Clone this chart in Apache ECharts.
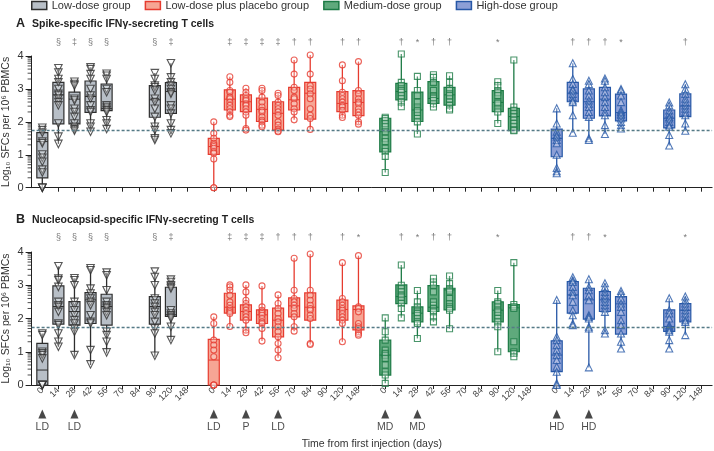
<!DOCTYPE html>
<html><head><meta charset="utf-8">
<script src="https://cdn.jsdelivr.net/npm/echarts@6/dist/echarts.min.js"></script>
<style>html,body{margin:0;padding:0;background:#fff}#c{width:714px;height:451px}</style>
</head><body><div id="c"></div>
<script>
// ---------------- DATA ----------------
const groupNames = ['Low-dose group','Low-dose plus placebo group','Medium-dose group','High-dose group'];
const dayTicks = ['0','14','28','42','56','70','84','90','120','148'];
const panelTitles = ['Spike-specific IFNγ-secreting T cells','Nucleocapsid-specific IFNγ-secreting T cells'];
const panelLetters = ['A','B'];
const threshold = 1.73;
const yTickLabels = ['0','1','2','3','4'];

// Panel A – box stats [min, Q1, median, Q3, max]
const A_LD_days = [0,14,28,42,56,90,120];
const A_LD_box = [[0,0.30,1.40,1.67,1.82],[1.33,1.94,2.82,3.20,3.63],[1.73,1.94,2.69,2.90,3.22],[1.70,2.29,2.77,3.24,3.66],[1.78,2.34,2.40,3.15,3.46],[1.45,2.14,2.67,3.10,3.48],[1.63,2.26,2.92,3.19,3.78]];
const A_LD_pts = [[1.82,1.75,1.67,1.40,1.35,1.01,0.91,0.79,0.55,0.46,0,0,0],[3.63,3.5,3.3,3.2,3.0,2.85,2.8,2.7,2.6,2.5,1.95,1.55,1.33],[3.22,3.15,3.1,2.7,2.65,2.4,2.3,2.15,1.95,1.85,1.78,1.73],[3.66,3.6,3.45,3.3,3.0,2.8,2.7,2.5,2.35,2.3,1.95,1.85,1.70],[3.46,3.4,3.3,3.0,2.9,2.5,2.45,2.4,2.35,2.3,2.05,1.95,1.78],[3.48,3.3,3.1,3.05,2.95,2.7,2.6,2.4,2.15,1.85,1.75,1.5,1.45],[3.78,3.35,3.2,3.1,3.0,2.9,2.85,2.5,2.4,2.25,1.95,1.75,1.65]];

const A_LDP_days = [0,14,28,42,56,70,84,120,148];
const A_LDP_box = [[0,1.01,1.25,1.50,2.0],[2.16,2.36,2.69,2.97,3.37],[1.75,2.31,2.61,2.82,3.02],[1.85,2.01,2.38,2.72,3.02],[1.70,1.75,2.26,2.61,2.87],[2.06,2.36,2.67,3.05,3.88],[1.77,2.08,2.87,3.20,4.03],[2.13,2.31,2.56,2.92,3.73],[1.93,2.19,2.59,2.95,3.83]];
const A_LDP_pts = [[2.0,1.65,1.5,1.35,1.3,1.25,1.2,1.1,1.05,0.87,0,0],[3.37,3.2,2.95,2.9,2.75,2.7,2.6,2.5,2.4,2.3,2.2,2.16],[3.02,2.9,2.8,2.7,2.65,2.55,2.5,2.4,2.3,2.2,1.8,1.75],[3.02,2.95,2.75,2.6,2.45,2.35,2.3,2.15,2.05,2.0,1.9,1.85],[2.87,2.8,2.6,2.5,2.4,2.3,2.2,2.0,1.9,1.78,1.72,1.70],[3.88,3.45,3.05,2.95,2.75,2.7,2.55,2.4,2.3,2.06],[4.03,3.45,3.1,3.0,2.85,2.7,2.4,2.2,2.1,1.77],[3.73,3.25,2.9,2.8,2.7,2.6,2.5,2.45,2.35,2.2,2.13],[3.83,2.95,2.85,2.7,2.6,2.55,2.4,2.3,2.2,2.0,1.93]];

const A_MD_days = [0,14,28,42,56,90,120];
const A_MD_box = [[0.46,1.09,1.70,2.11,2.14],[2.46,2.67,2.92,3.17,4.06],[1.63,2.01,2.36,2.90,3.38],[2.43,2.56,2.71,3.22,3.43],[2.36,2.51,2.82,3.05,3.40],[1.95,2.31,2.59,2.95,3.22],[1.73,1.73,2.16,2.41,3.88]];
const A_MD_pts = [[2.14,2.1,2.05,1.95,1.85,1.7,1.5,1.4,1.2,1.1,0.95,0.46],[4.06,3.2,3.1,3.0,2.95,2.9,2.8,2.7,2.6,2.46],[3.38,2.95,2.8,2.6,2.45,2.35,2.3,2.2,2.1,2.0,1.63],[3.43,3.35,3.2,2.95,2.8,2.75,2.7,2.65,2.55,2.45],[3.40,3.2,3.0,2.95,2.85,2.8,2.7,2.6,2.5,2.4,2.36],[3.22,3.1,2.95,2.9,2.8,2.6,2.55,2.4,2.3,1.95],[3.88,2.45,2.35,2.25,2.15,2.05,1.95,1.85,1.75,1.73]];

const A_HD_days = [0,14,28,42,56,90,120];
const A_HD_box = [[0.44,0.94,1.50,1.78,2.41],[1.67,2.61,2.87,3.20,3.78],[1.45,2.11,2.61,3.0,3.25],[1.63,2.18,2.69,3.05,3.32],[1.80,2.03,2.28,2.84,3.0],[1.28,1.82,2.11,2.36,2.59],[1.73,2.16,2.48,2.85,3.14]];
const A_HD_pts = [[2.41,1.95,1.7,1.6,1.55,1.45,1.35,1.0,0.6,0.5,0.44],[3.78,3.3,3.15,3.0,2.95,2.85,2.75,2.65,2.6,2.2,1.67],[3.25,3.15,2.95,2.8,2.65,2.55,2.45,2.3,2.15,1.5,1.45],[3.32,3.25,3.05,2.9,2.75,2.6,2.45,2.3,2.2,1.9,1.63],[3.0,2.95,2.8,2.6,2.35,2.3,2.25,2.2,2.1,2.0,1.9,1.80],[2.59,2.5,2.35,2.25,2.15,2.1,2.0,1.9,1.85,1.6,1.28],[3.14,3.0,2.85,2.7,2.6,2.5,2.4,2.3,2.2,1.95,1.73]];

// Panel B
const B_LD_days = [0,14,28,42,56,90,120];
const B_LD_box = [[0,0,0.45,1.25,1.55],[1.15,1.83,2.36,2.98,3.57],[0.85,1.80,2.21,2.51,3.21],[0.60,1.85,2.56,2.78,3.51],[0.95,1.80,2.36,2.73,3.38],[0.85,1.83,2.36,2.66,3.41],[1.33,2.06,2.11,2.94,3.17]];
const B_LD_pts = [[1.55,1.5,1.0,0.95,0.9,0.8,0,0,0,0,0],[3.57,3.2,3.15,2.95,2.5,2.4,2.35,2.2,1.85,1.8,1.55,1.3,1.15],[3.21,3.15,3.0,2.5,2.4,2.25,2.1,1.95,1.85,1.7,1.6,0.9],[3.51,3.45,2.9,2.75,2.6,2.5,2.4,2.1,1.9,1.85,1.05,0.62],[3.38,3.3,2.85,2.5,2.4,2.35,2.3,2.2,2.1,1.6,1.5,1.3,0.98],[3.41,3.25,3.0,2.6,2.45,2.35,2.2,2.1,1.9,1.7,1.55,0.88],[3.17,3.1,3.0,2.95,2.9,2.25,2.15,2.1,2.05,2.0,1.75,1.35]];

const B_LDP_days = [0,14,28,42,56,70,84,120,148];
const B_LDP_box = [[0,0,0.75,1.37,2.05],[1.76,2.16,2.34,2.76,3.01],[1.57,1.95,2.21,2.41,3.01],[1.32,1.85,2.11,2.26,2.98],[0.82,1.45,1.95,2.31,2.71],[1.62,2.05,2.38,2.62,3.81],[1.22,1.95,2.34,2.77,3.94],[1.30,1.95,2.27,2.55,3.68],[1.50,1.66,2.27,2.38,3.89]];
const B_LDP_pts = [[2.05,1.85,1.35,1.2,1.05,0.85,0,0,0],[3.01,2.95,2.85,2.7,2.5,2.4,2.3,2.25,2.2,2.15,1.76],[3.01,2.8,2.55,2.45,2.35,2.25,2.15,2.05,1.95,1.65,1.57],[2.98,2.35,2.25,2.2,2.15,2.1,2.0,1.9,1.85,1.7,1.32],[2.71,2.45,2.3,2.15,2.0,1.9,1.75,1.6,1.45,1.25,1.05,0.82],[3.81,2.85,2.6,2.5,2.4,2.3,2.15,2.05,1.75,1.62],[3.94,2.85,2.7,2.55,2.4,2.3,2.25,2.1,2.0,1.25,1.22],[3.68,2.6,2.5,2.4,2.3,2.25,2.15,2.05,1.95,1.85,1.30],[3.89,2.35,2.3,2.2,1.85,1.75,1.7,1.6,1.55,1.5]];

const B_MD_days = [0,14,28,42,56,90,120];
const B_MD_box = [[0.05,0.30,0.90,1.35,2.02],[2.02,2.45,2.66,3.01,3.61],[1.40,1.90,2.16,2.35,2.84],[1.90,2.21,2.34,2.99,3.21],[1.69,2.26,2.86,2.91,3.28],[1.00,1.90,2.25,2.50,2.84],[0.85,1.00,2.32,2.42,3.68]];
const B_MD_pts = [[2.02,1.6,1.35,1.05,0.95,0.9,0.8,0.6,0.4,0.3,0.05],[3.61,3.0,2.9,2.8,2.7,2.65,2.55,2.45,2.3,2.02],[2.84,2.5,2.35,2.25,2.2,2.15,2.1,2.0,1.9,1.85,1.40],[3.21,3.1,3.0,2.8,2.5,2.4,2.3,2.25,2.2,2.05,1.90],[3.28,3.05,2.9,2.85,2.8,2.6,2.45,2.35,2.3,2.25,1.69],[2.84,2.5,2.45,2.35,2.25,2.2,2.1,2.0,1.9,1.75,1.00],[3.68,2.42,2.35,2.3,1.3,1.0,0.95,0.85]];

const B_HD_days = [0,14,28,42,56,90,120];
const B_HD_box = [[0,0.40,0.90,1.33,2.56],[1.80,2.16,2.71,3.11,3.24],[0.53,1.98,2.56,2.91,3.18],[1.55,2.21,2.56,2.81,3.06],[1.10,1.53,2.44,2.66,2.83],[1.10,1.61,1.76,2.26,2.61],[1.50,1.90,2.25,2.45,2.66]];
const B_HD_pts = [[2.56,1.45,1.35,1.2,1.05,0.9,0.75,0.55,0.4,0.05,0],[3.24,3.15,3.1,2.95,2.8,2.7,2.5,2.25,2.1,1.85,1.80],[3.18,2.95,2.85,2.7,2.55,2.1,2.05,2.0,1.75,1.7,0.53],[3.06,2.95,2.8,2.7,2.6,2.5,2.4,2.3,2.2,1.65,1.55],[2.83,2.75,2.6,2.45,2.35,2.2,1.95,1.8,1.55,1.3,1.10],[2.61,2.25,2.15,2.0,1.8,1.75,1.7,1.65,1.6,1.35,1.1],[2.66,2.55,2.45,2.35,2.25,2.15,2.05,1.95,1.9,1.5]];

// significance marks  [day, mark]
const A_sig = [
  [[14,'§'],[28,'‡'],[42,'§'],[56,'§'],[90,'§'],[120,'‡']],
  [[14,'‡'],[28,'‡'],[42,'‡'],[56,'‡'],[70,'†'],[84,'†'],[120,'†'],[148,'†']],
  [[14,'†'],[28,'*'],[42,'†'],[56,'†'],[90,'*']],
  [[14,'†'],[28,'†'],[42,'†'],[56,'*'],[120,'†']]
];
const B_sig = [
  [[14,'§'],[28,'§'],[42,'§'],[56,'§'],[90,'§'],[120,'‡']],
  [[14,'‡'],[28,'‡'],[42,'‡'],[56,'†'],[70,'†'],[84,'†'],[120,'†'],[148,'*']],
  [[14,'†'],[28,'*'],[42,'†'],[56,'†'],[90,'*']],
  [[14,'†'],[28,'†'],[42,'*'],[120,'*']]
];
// dose administration markers [groupIndex, day, label]
const doses = [[0,0,'LD'],[0,28,'LD'],[1,0,'LD'],[1,28,'P'],[1,56,'LD'],[2,0,'MD'],[2,28,'MD'],[3,0,'HD'],[3,28,'HD']];

// ---------------- STYLE ----------------
const fills   = ['#b8bfc7','#f6a594','#5fa97c','#8c9fd6'];
const borders = ['#2e2e2e','#e63b2f','#1c7a45','#2657a6'];
const symbols = ['triangle','circle','rect','triangle'];
const symRot  = [180,0,0,0];
const symSize = [7.5,6,6,7];
const FONT = "'Liberation Sans Narrow','Liberation Sans',Arial,sans-serif";

const PAD = 2, STRIDE = 32, STEP = 3, NCAT = 128;
function xIdx(g, day){ return PAD + STRIDE*g + STEP*dayTicks.indexOf(String(day)); }
const categories = [];
const tickIdx = {};
for (let i=0;i<NCAT;i++) categories.push('_'+i);
for (let g=0; g<4; g++) dayTicks.forEach((d,k)=>{ const i = xIdx(g,d); categories[i] = g+'|'+d; tickIdx[i]=true; });
const isTick = (i)=> !!tickIdx[i];

const panels = [
  {days:[A_LD_days,A_LDP_days,A_MD_days,A_HD_days], box:[A_LD_box,A_LDP_box,A_MD_box,A_HD_box], pts:[A_LD_pts,A_LDP_pts,A_MD_pts,A_HD_pts], sig:A_sig, sigY:4.40},
  {days:[B_LD_days,B_LDP_days,B_MD_days,B_HD_days], box:[B_LD_box,B_LDP_box,B_MD_box,B_HD_box], pts:[B_LD_pts,B_LDP_pts,B_MD_pts,B_HD_pts], sig:B_sig, sigY:4.45}
];
const gridDefs = [
  {left:31.6, right:1.9, top:56, height:131.7, outerBoundsMode:'none', containLabel:false},
  {left:31.6, right:1.9, top:252, height:133, outerBoundsMode:'none', containLabel:false}
];

const minorVals = [];
for (let d=0; d<4; d++) for (let k=2;k<=9;k++) minorVals.push([0, d+Math.log10(k)]);

const series = [];
const xAxes = [], yAxes = [], titles = [];
panels.forEach((P, p)=>{
  xAxes.push({
    type:'category', gridIndex:p, data:categories, boundaryGap:false,
    axisLine:{lineStyle:{color:'#222', width:1}},
    axisTick:{show:true, length:4, interval:(i)=>isTick(i), lineStyle:{color:'#222'}},
    axisLabel:{show:p===1, interval:(i)=>isTick(i), rotate:45, margin:4, fontSize:9, color:'#444', fontFamily:FONT,
      formatter:(v)=> v.indexOf('|')>=0 ? v.split('|')[1] : ''},
    name: p===1 ? 'Time from first injection (days)' : '', nameLocation:'middle', nameGap:54,
    nameTextStyle:{fontSize:10.5, color:'#333', fontFamily:FONT}
  });
  yAxes.push({
    type:'value', gridIndex:p, min:0, max:4, interval:1,
    axisLine:{show:true, lineStyle:{color:'#222'}},
    axisTick:{show:true, length:6, lineStyle:{color:'#222'}},
    splitLine:{show:false},
    axisLabel:{fontSize:11, color:'#333', margin:8, fontFamily:FONT, formatter:(v)=>yTickLabels[v]},
    name:'Log₁₀ SFCs per 10⁶ PBMCs', nameLocation:'middle', nameGap:20, nameMoveOverlap:false,
    nameTextStyle:{fontSize:10.5, color:'#333', fontFamily:FONT}
  });
  titles.push({text:panelLetters[p], left:16, top: p===0?17:213, padding:0, textStyle:{fontSize:12.5, fontWeight:'bold', color:'#222', fontFamily:FONT}});
  titles.push({text:panelTitles[p], left:32, top: p===0?18.5:214.5, padding:0, textStyle:{fontSize:10.5, fontWeight:'bold', color:'#222', fontFamily:FONT}});

  // minor log ticks on y axis
  series.push({type:'custom', xAxisIndex:p, yAxisIndex:p, data:minorVals, clip:false, silent:true, encode:{x:0,y:1},
    renderItem:(params, api)=>{ const c = api.coord([api.value(0), api.value(1)]);
      return {type:'line', shape:{x1:c[0]-4, y1:c[1], x2:c[0], y2:c[1]}, style:{stroke:'#222', lineWidth:0.8}}; }});

  for (let g=0; g<4; g++){
    const boxData = P.days[g].map((d,i)=>[xIdx(g,d)].concat(P.box[g][i]));
    const fill = fills[g], bc = borders[g];
    const s = {type:'custom', name:groupNames[g], xAxisIndex:p, yAxisIndex:p, data:boxData, clip:false, z:2,
      encode:{x:0, y:[1,2,3,4,5]},
      renderItem:(params, api)=>{
        const x = api.value(0);
        const pMin = api.coord([x, api.value(1)]), pQ1 = api.coord([x, api.value(2)]),
              pMed = api.coord([x, api.value(3)]), pQ3 = api.coord([x, api.value(4)]), pMax = api.coord([x, api.value(5)]);
        const hw = 5.5;
        return {type:'group', children:[
          {type:'line', shape:{x1:pMin[0], y1:pMin[1], x2:pMax[0], y2:pMax[1]}, style:{stroke:bc, lineWidth:1.3}},
          {type:'rect', shape:{x:pQ3[0]-hw, y:pQ3[1], width:2*hw, height:Math.max(pQ1[1]-pQ3[1],1)}, style:{fill:fill, stroke:bc, lineWidth:1.2}},
          {type:'line', shape:{x1:pMed[0]-hw, y1:pMed[1], x2:pMed[0]+hw, y2:pMed[1]}, style:{stroke:bc, lineWidth:1}}
        ]};
      }};
    if (g===0){
      s.markLine = {silent:true, symbol:'none', label:{show:false}, lineStyle:{type:[3,2], color:'#557a86', width:1.3}, data:[{yAxis:threshold}]};
    }
    series.push(s);
    const ptData = [];
    P.days[g].forEach((d,i)=>{ P.pts[g][i].forEach(v=>ptData.push([xIdx(g,d), v])); });
    series.push({type:'scatter', name:groupNames[g], xAxisIndex:p, yAxisIndex:p, data:ptData, clip:false, z:3,
      symbol:symbols[g], symbolRotate:symRot[g], symbolSize:symSize[g],
      itemStyle:{color:'rgba(255,255,255,0.35)', borderColor:bc, borderWidth:1.1}});
    // significance marks
    series.push({type:'scatter', xAxisIndex:p, yAxisIndex:p, clip:false, silent:true, symbolSize:1,
      itemStyle:{color:'transparent'},
      data:P.sig[g].map(s=>({name:s[1], value:[xIdx(g,s[0]), P.sigY]})),
      label:{show:true, position:'inside', formatter:(q)=>q.name, fontSize:9, color:'#555', fontFamily:FONT}});
  }
});
// dose markers
series.push({type:'scatter', xAxisIndex:1, yAxisIndex:1, clip:false, silent:true, symbol:'triangle', symbolSize:[8,9],
  itemStyle:{color:'#1a1a1a'},
  data:doses.map(d=>({name:d[2], value:[xIdx(d[0], d[1]), -0.87]})),
  label:{show:true, position:'bottom', distance:3, formatter:(q)=>q.name, fontSize:10.5, color:'#222', fontFamily:FONT}});

const chart = echarts.init(document.getElementById('c'), null, {renderer:'canvas'});
chart.setOption({
  animation:false,
  textStyle:{fontFamily:FONT},
  title:titles,
  legend:{left:31, top:0, padding:0, itemWidth:15, itemHeight:8, itemGap:14,
    textStyle:{fontSize:11, color:'#333', fontFamily:FONT},
    data:groupNames.map((n,g)=>({name:n, icon:'rect', itemStyle:{color:fills[g], borderColor:borders[g], borderWidth:1.5}}))},
  grid:gridDefs,
  xAxis:xAxes, yAxis:yAxes,
  series:series
});
</script></body></html>
